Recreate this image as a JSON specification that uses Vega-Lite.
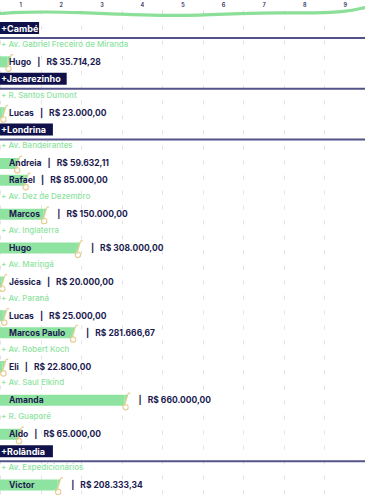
{
  "$schema": "https://vega.github.io/schema/vega-lite/v6.json",
  "width": 365,
  "height": 490,
  "autosize": {"type": "none"},
  "padding": {"left": 0, "top": 10, "right": 0, "bottom": 0},
  "background": "white",
  "config": {
    "view": {"stroke": null},
    "font": "Inter",
    "locale": {
      "number": {"decimal": ",", "thousands": ".", "grouping": [3], "currency": ["R$ ", ""]}
    }
  },
  "datasets": {
    "columns": [
      {"col": 1}, {"col": 2}, {"col": 3}, {"col": 4}, {"col": 5},
      {"col": 6}, {"col": 7}, {"col": 8}, {"col": 9}
    ],
    "wave": [
      {"col": 0, "lift": 2.5},
      {"col": 0.49, "lift": 3.7},
      {"col": 1.11, "lift": 4.2},
      {"col": 1.97, "lift": 3.5},
      {"col": 2.96, "lift": 1.8},
      {"col": 3.94, "lift": 0.4},
      {"col": 4.93, "lift": 0.7},
      {"col": 5.92, "lift": 2.5},
      {"col": 6.9, "lift": 3.5},
      {"col": 7.77, "lift": 2.8},
      {"col": 8.51, "lift": 4.0},
      {"col": 9.0, "lift": 8.5}
    ],
    "rows": [
      {"i": 1, "kind": "city", "text": "Cambé"},
      {"i": 2, "kind": "street", "text": "+ Av. Gabriel Freceiro de Miranda"},
      {"i": 3, "kind": "person", "text": "Hugo", "value": 35714.28},
      {"i": 4, "kind": "city", "text": "Jacarezinho"},
      {"i": 5, "kind": "street", "text": "+ R. Santos Dumont"},
      {"i": 6, "kind": "person", "text": "Lucas", "value": 23000},
      {"i": 7, "kind": "city", "text": "Londrina"},
      {"i": 8, "kind": "street", "text": "+ Av. Bandeirantes"},
      {"i": 9, "kind": "person", "text": "Andreia", "value": 59632.11},
      {"i": 10, "kind": "person", "text": "Rafael", "value": 85000},
      {"i": 11, "kind": "street", "text": "+ Av. Dez de Dezembro"},
      {"i": 12, "kind": "person", "text": "Marcos", "value": 150000},
      {"i": 13, "kind": "street", "text": "+ Av. Inglaterra"},
      {"i": 14, "kind": "person", "text": "Hugo", "value": 308000},
      {"i": 15, "kind": "street", "text": "+ Av. Maringá"},
      {"i": 16, "kind": "person", "text": "Jéssica", "value": 20000},
      {"i": 17, "kind": "street", "text": "+ Av. Paraná"},
      {"i": 18, "kind": "person", "text": "Lucas", "value": 25000},
      {"i": 19, "kind": "person", "text": "Marcos Paulo", "value": 281666.67},
      {"i": 20, "kind": "street", "text": "+ Av. Robert Koch"},
      {"i": 21, "kind": "person", "text": "Eli", "value": 22800},
      {"i": 22, "kind": "street", "text": "+ Av. Saul Elkind"},
      {"i": 23, "kind": "person", "text": "Amanda", "value": 660000},
      {"i": 24, "kind": "street", "text": "+ R. Guaporé"},
      {"i": 25, "kind": "person", "text": "Aldo", "value": 65000},
      {"i": 26, "kind": "city", "text": "Rolândia"},
      {"i": 27, "kind": "street", "text": "+ Av. Expedicionários"},
      {"i": 28, "kind": "person", "text": "Victor", "value": 208333.34}
    ]
  },
  "resolve": {"scale": {"x": "independent", "y": "independent"}},
  "layer": [
    {
      "data": {"name": "columns"},
      "mark": {"type": "tick", "opacity": 0},
      "encoding": {
        "x": {
          "field": "col",
          "type": "ordinal",
          "scale": {"paddingInner": 0, "paddingOuter": 0},
          "axis": {
            "orient": "top",
            "title": null,
            "tickBand": "extent",
            "ticks": false,
            "domain": false,
            "grid": true,
            "gridColor": "#e2e2e8",
            "gridDash": [4, 11],
            "gridWidth": 1,
            "labelAngle": 0,
            "labelFontSize": 5.5,
            "labelColor": "#2a2a5a",
            "labelPadding": 3,
            "labelFontWeight": 600
          }
        }
      }
    },
    {
      "data": {"name": "wave"},
      "mark": {"type": "line", "interpolate": "basis", "color": "#7edb8d", "strokeWidth": 3.2, "strokeCap": "round", "opacity": 0.9},
      "encoding": {
        "x": {"field": "col", "type": "quantitative", "scale": {"domain": [0, 9], "nice": false, "zero": false}, "axis": null},
        "y": {"field": "lift", "type": "quantitative", "scale": {"domain": [0, 10], "range": [6, -4], "nice": false}, "axis": null}
      }
    },
    {
      "data": {"name": "rows"},
      "transform": [{"filter": "datum.kind === 'city'"}],
      "mark": {"type": "rule", "color": "#53538a", "strokeWidth": 2, "yOffset": 10},
      "encoding": {
        "y": {"field": "i", "type": "quantitative", "axis": null, "scale": {"domain": [1, 28], "range": [18, 475], "nice": false, "zero": false, "padding": 0}}
      }
    },
    {
      "data": {"name": "rows"},
      "transform": [
        {"filter": "datum.kind === 'city'"},
        {"calculate": "length(datum.text) + 3.5", "as": "boxChars"}
      ],
      "mark": {"type": "bar", "orient": "horizontal", "size": 12, "color": "#10104a"},
      "encoding": {
        "x": {"field": "boxChars", "type": "quantitative", "scale": {"domain": [0, 80], "range": [0, 368], "nice": false, "padding": 0}, "axis": null},
        "y": {"field": "i", "type": "quantitative", "axis": null, "scale": {"domain": [1, 28], "range": [18, 475], "nice": false, "zero": false, "padding": 0}}
      }
    },
    {
      "data": {"name": "rows"},
      "transform": [
        {"filter": "datum.kind === 'city'"},
        {"calculate": "'+' + datum.text", "as": "heading"}
      ],
      "mark": {"type": "text", "align": "left", "baseline": "middle", "dx": 1, "dy": 0.5, "fontSize": 9, "fontWeight": 700, "color": "white"},
      "encoding": {
        "x": {"datum": 0, "type": "quantitative", "scale": {"domain": [0, 80], "range": [0, 368], "nice": false}, "axis": null},
        "y": {"field": "i", "type": "quantitative", "axis": null, "scale": {"domain": [1, 28], "range": [18, 475], "nice": false, "zero": false, "padding": 0}},
        "text": {"field": "heading"}
      }
    },
    {
      "data": {"name": "rows"},
      "transform": [{"filter": "datum.kind === 'street'"}],
      "mark": {"type": "text", "align": "left", "baseline": "middle", "dx": 1, "fontSize": 8, "fontWeight": 500, "color": "#8ee3a0"},
      "encoding": {
        "x": {"datum": 17000, "type": "quantitative", "scale": {"type": "symlog", "constant": 200000, "domain": [17000, 660000], "range": [0, 124.5], "zero": false, "nice": false, "padding": 0}, "axis": null},
        "y": {"field": "i", "type": "quantitative", "axis": null, "scale": {"domain": [1, 28], "range": [18, 475], "nice": false, "zero": false, "padding": 0}},
        "text": {"field": "text"}
      }
    },
    {
      "data": {"name": "rows"},
      "transform": [{"filter": "datum.kind === 'person'"}],
      "mark": {"type": "bar", "orient": "horizontal", "size": 11, "color": "#8fe3a0"},
      "encoding": {
        "x": {"field": "value", "type": "quantitative", "scale": {"type": "symlog", "constant": 200000, "domain": [17000, 660000], "range": [0, 124.5], "zero": false, "nice": false, "padding": 0}, "axis": null},
        "y": {"field": "i", "type": "quantitative", "axis": null, "scale": {"domain": [1, 28], "range": [18, 475], "nice": false, "zero": false, "padding": 0}}
      }
    },
    {
      "data": {"name": "rows"},
      "transform": [{"filter": "datum.kind === 'person'"}],
      "mark": {"type": "point", "filled": true, "size": 400, "color": "#8fe3a0", "opacity": 1, "strokeWidth": 0,
               "shape": "M0,-0.55 L0.32,-0.55 L0,0.55 Z"},
      "encoding": {
        "x": {"field": "value", "type": "quantitative", "scale": {"type": "symlog", "constant": 200000, "domain": [17000, 660000], "range": [0, 124.5], "zero": false, "nice": false, "padding": 0}, "axis": null},
        "y": {"field": "i", "type": "quantitative", "axis": null, "scale": {"domain": [1, 28], "range": [18, 475], "nice": false, "zero": false, "padding": 0}}
      }
    },
    {
      "data": {"name": "rows"},
      "transform": [{"filter": "datum.kind === 'person'"}],
      "mark": {"type": "point", "filled": false, "size": 400, "stroke": "#e6cf96", "strokeWidth": 1.2, "opacity": 1,
               "shape": "M0,0.55 L0.32,-0.55 C0.36,-0.72 0.5,-0.8 0.56,-0.66 M0.37,0.68 A0.27,0.27 0 1 1 0.369,0.66"},
      "encoding": {
        "x": {"field": "value", "type": "quantitative", "scale": {"type": "symlog", "constant": 200000, "domain": [17000, 660000], "range": [0, 124.5], "zero": false, "nice": false, "padding": 0}, "axis": null},
        "y": {"field": "i", "type": "quantitative", "axis": null, "scale": {"domain": [1, 28], "range": [18, 475], "nice": false, "zero": false, "padding": 0}}
      }
    },
    {
      "data": {"name": "rows"},
      "transform": [{"filter": "datum.kind === 'person' && datum.value >= 150000"}],
      "mark": {"type": "text", "align": "left", "baseline": "middle", "dx": 9, "fontSize": 8.5, "fontWeight": 700, "color": "#1b1b4f"},
      "encoding": {
        "x": {"datum": 17000, "type": "quantitative", "scale": {"type": "symlog", "constant": 200000, "domain": [17000, 660000], "range": [0, 124.5], "zero": false, "nice": false, "padding": 0}, "axis": null},
        "y": {"field": "i", "type": "quantitative", "axis": null, "scale": {"domain": [1, 28], "range": [18, 475], "nice": false, "zero": false, "padding": 0}},
        "text": {"field": "text"}
      }
    },
    {
      "data": {"name": "rows"},
      "transform": [
        {"filter": "datum.kind === 'person' && datum.value >= 150000"},
        {"calculate": "'|\u00a0\u00a0\u00a0' + format(datum.value, '$,.2f')", "as": "tail"}
      ],
      "mark": {"type": "text", "align": "left", "baseline": "middle", "dx": 14, "fontSize": 8.5, "fontWeight": 700, "color": "#1b1b4f"},
      "encoding": {
        "x": {"field": "value", "type": "quantitative", "scale": {"type": "symlog", "constant": 200000, "domain": [17000, 660000], "range": [0, 124.5], "zero": false, "nice": false, "padding": 0}, "axis": null},
        "y": {"field": "i", "type": "quantitative", "axis": null, "scale": {"domain": [1, 28], "range": [18, 475], "nice": false, "zero": false, "padding": 0}},
        "text": {"field": "tail"}
      }
    },
    {
      "data": {"name": "rows"},
      "transform": [
        {"filter": "datum.kind === 'person' && datum.value < 150000"},
        {"calculate": "datum.text + '\u00a0\u00a0\u00a0|\u00a0\u00a0\u00a0' + format(datum.value, '$,.2f')", "as": "line"}
      ],
      "mark": {"type": "text", "align": "left", "baseline": "middle", "dx": 9, "fontSize": 8.5, "fontWeight": 700, "color": "#1b1b4f"},
      "encoding": {
        "x": {"datum": 17000, "type": "quantitative", "scale": {"type": "symlog", "constant": 200000, "domain": [17000, 660000], "range": [0, 124.5], "zero": false, "nice": false, "padding": 0}, "axis": null},
        "y": {"field": "i", "type": "quantitative", "axis": null, "scale": {"domain": [1, 28], "range": [18, 475], "nice": false, "zero": false, "padding": 0}},
        "text": {"field": "line"}
      }
    }
  ]
}
